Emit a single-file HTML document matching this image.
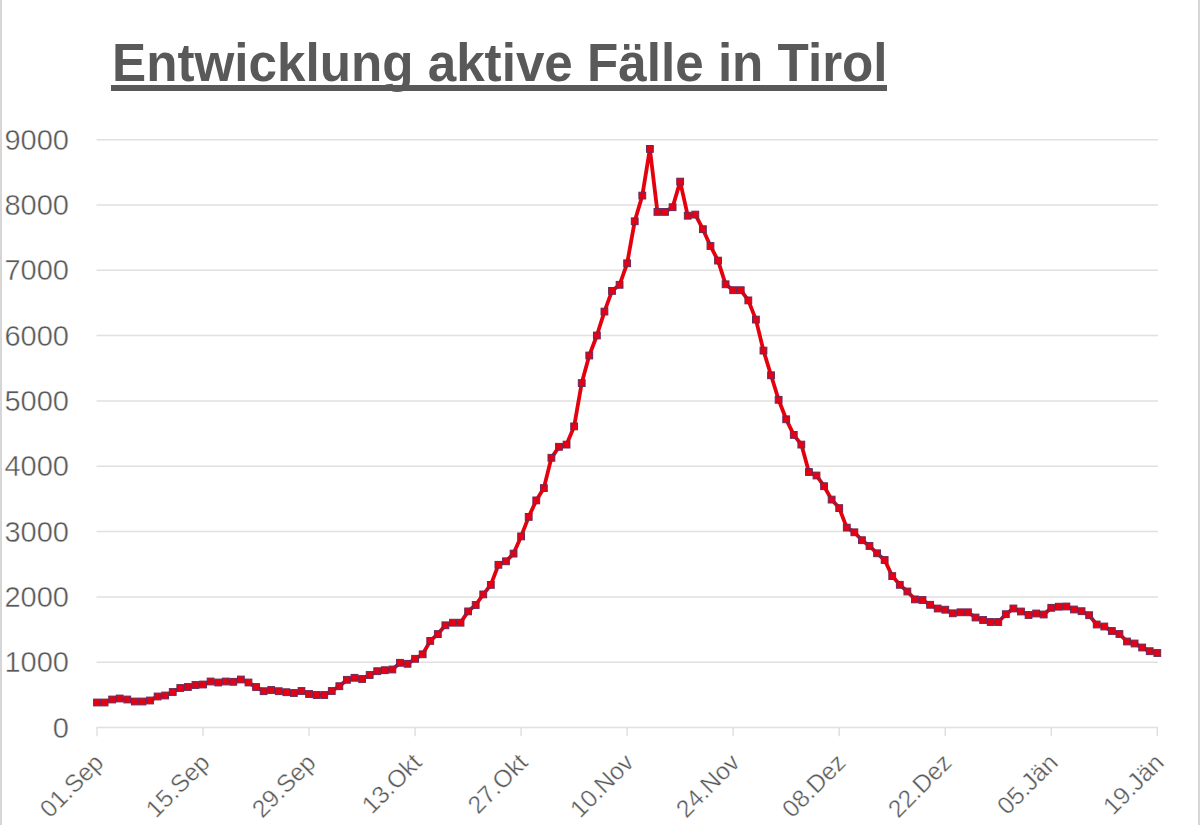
<!DOCTYPE html>
<html><head><meta charset="utf-8"><style>
html,body{margin:0;padding:0;background:#fff;}
body{width:1200px;height:825px;position:relative;overflow:hidden;font-family:"Liberation Sans",sans-serif;}
svg{position:absolute;left:0;top:0;}
.yl{font-family:"Liberation Sans",sans-serif;font-size:29px;fill:#595959;stroke:#fff;stroke-width:0.4px;}
.xl{font-family:"Liberation Sans",sans-serif;font-size:24.5px;fill:#595959;stroke:#fff;stroke-width:0.35px;}
.title{position:absolute;left:112px;top:35px;font-weight:bold;font-size:51.2px;color:#595959;white-space:nowrap;line-height:1;transform-origin:0 0;transform:scaleY(1.065);}
.ul{position:absolute;left:111px;top:85.3px;width:776px;height:5.4px;background:#595959;}
.bl{position:absolute;left:0;top:0;width:2px;height:825px;background:#d6d6d6;}
.br{position:absolute;left:1198px;top:0;width:2px;height:825px;background:#d6d6d6;}
</style></head><body>
<div class="bl"></div><div class="br"></div>
<div class="ul"></div><div class="title">Entwicklung aktive F&#228;lle in Tirol</div>
<svg width="1200" height="825" viewBox="0 0 1200 825">
<line x1="96.5" y1="662.27" x2="1158" y2="662.27" stroke="#e0e0e0" stroke-width="1.5"/>
<line x1="96.5" y1="596.94" x2="1158" y2="596.94" stroke="#e0e0e0" stroke-width="1.5"/>
<line x1="96.5" y1="531.61" x2="1158" y2="531.61" stroke="#e0e0e0" stroke-width="1.5"/>
<line x1="96.5" y1="466.28" x2="1158" y2="466.28" stroke="#e0e0e0" stroke-width="1.5"/>
<line x1="96.5" y1="400.95" x2="1158" y2="400.95" stroke="#e0e0e0" stroke-width="1.5"/>
<line x1="96.5" y1="335.62" x2="1158" y2="335.62" stroke="#e0e0e0" stroke-width="1.5"/>
<line x1="96.5" y1="270.29" x2="1158" y2="270.29" stroke="#e0e0e0" stroke-width="1.5"/>
<line x1="96.5" y1="204.96" x2="1158" y2="204.96" stroke="#e0e0e0" stroke-width="1.5"/>
<line x1="96.5" y1="139.63" x2="1158" y2="139.63" stroke="#e0e0e0" stroke-width="1.5"/>
<line x1="96.5" y1="727.6" x2="1158" y2="727.6" stroke="#e0e0e0" stroke-width="1.5"/>
<line x1="97.00" y1="727.6" x2="97.00" y2="736.2" stroke="#e0e0e0" stroke-width="1.5"/>
<line x1="203.03" y1="727.6" x2="203.03" y2="736.2" stroke="#e0e0e0" stroke-width="1.5"/>
<line x1="309.06" y1="727.6" x2="309.06" y2="736.2" stroke="#e0e0e0" stroke-width="1.5"/>
<line x1="415.09" y1="727.6" x2="415.09" y2="736.2" stroke="#e0e0e0" stroke-width="1.5"/>
<line x1="521.12" y1="727.6" x2="521.12" y2="736.2" stroke="#e0e0e0" stroke-width="1.5"/>
<line x1="627.15" y1="727.6" x2="627.15" y2="736.2" stroke="#e0e0e0" stroke-width="1.5"/>
<line x1="733.18" y1="727.6" x2="733.18" y2="736.2" stroke="#e0e0e0" stroke-width="1.5"/>
<line x1="839.21" y1="727.6" x2="839.21" y2="736.2" stroke="#e0e0e0" stroke-width="1.5"/>
<line x1="945.24" y1="727.6" x2="945.24" y2="736.2" stroke="#e0e0e0" stroke-width="1.5"/>
<line x1="1051.27" y1="727.6" x2="1051.27" y2="736.2" stroke="#e0e0e0" stroke-width="1.5"/>
<line x1="1157.30" y1="727.6" x2="1157.30" y2="736.2" stroke="#e0e0e0" stroke-width="1.5"/>
<text x="69" y="737.50" text-anchor="end" class="yl">0</text>
<text x="69" y="672.17" text-anchor="end" class="yl">1000</text>
<text x="69" y="606.84" text-anchor="end" class="yl">2000</text>
<text x="69" y="541.51" text-anchor="end" class="yl">3000</text>
<text x="69" y="476.18" text-anchor="end" class="yl">4000</text>
<text x="69" y="410.85" text-anchor="end" class="yl">5000</text>
<text x="69" y="345.52" text-anchor="end" class="yl">6000</text>
<text x="69" y="280.19" text-anchor="end" class="yl">7000</text>
<text x="69" y="214.86" text-anchor="end" class="yl">8000</text>
<text x="69" y="149.53" text-anchor="end" class="yl">9000</text>
<text transform="translate(105.00,764) rotate(-45)" text-anchor="end" class="xl">01.Sep</text>
<text transform="translate(211.03,764) rotate(-45)" text-anchor="end" class="xl">15.Sep</text>
<text transform="translate(317.06,764) rotate(-45)" text-anchor="end" class="xl">29.Sep</text>
<text transform="translate(423.09,764) rotate(-45)" text-anchor="end" class="xl">13.Okt</text>
<text transform="translate(529.12,764) rotate(-45)" text-anchor="end" class="xl">27.Okt</text>
<text transform="translate(635.15,764) rotate(-45)" text-anchor="end" class="xl">10.Nov</text>
<text transform="translate(741.18,764) rotate(-45)" text-anchor="end" class="xl">24.Nov</text>
<text transform="translate(847.21,764) rotate(-45)" text-anchor="end" class="xl">08.Dez</text>
<text transform="translate(953.24,764) rotate(-45)" text-anchor="end" class="xl">22.Dez</text>
<text transform="translate(1059.27,764) rotate(-45)" text-anchor="end" class="xl">05.J&#228;n</text>
<text transform="translate(1165.30,764) rotate(-45)" text-anchor="end" class="xl">19.J&#228;n</text>
<path d="M97.00,702.50 L104.57,702.50 L112.15,699.50 L119.72,698.50 L127.29,699.50 L134.87,701.50 L142.44,701.50 L150.01,700.50 L157.59,696.50 L165.16,695.50 L172.74,692.00 L180.31,688.00 L187.88,687.00 L195.46,685.00 L203.03,684.50 L210.60,681.50 L218.18,682.50 L225.75,681.50 L233.32,681.80 L240.90,679.50 L248.47,682.50 L256.04,687.00 L263.62,691.20 L271.19,690.00 L278.77,691.20 L286.34,692.20 L293.91,693.00 L301.49,691.00 L309.06,694.00 L316.63,695.00 L324.21,695.00 L331.78,691.00 L339.35,686.20 L346.93,679.80 L354.50,677.80 L362.07,679.00 L369.65,675.00 L377.22,671.20 L384.80,670.20 L392.37,669.50 L399.94,662.80 L407.52,663.80 L415.09,658.80 L422.66,654.30 L430.24,640.90 L437.81,634.10 L445.38,625.30 L452.96,622.70 L460.53,622.70 L468.11,611.40 L475.68,605.00 L483.25,594.40 L490.83,584.90 L498.40,564.80 L505.97,561.30 L513.55,553.60 L521.12,536.40 L528.69,516.90 L536.27,500.40 L543.84,488.10 L551.41,457.80 L558.99,446.80 L566.56,444.60 L574.13,426.40 L581.71,383.10 L589.28,355.50 L596.86,335.50 L604.43,311.60 L612.00,290.90 L619.58,284.80 L627.15,263.30 L634.72,221.30 L642.30,195.60 L649.87,148.90 L657.44,211.90 L665.02,211.90 L672.59,207.20 L680.16,181.60 L687.74,215.70 L695.31,214.60 L702.89,229.20 L710.46,246.00 L718.03,260.60 L725.61,284.30 L733.18,290.20 L740.75,290.20 L748.33,300.40 L755.90,319.60 L763.47,350.60 L771.05,375.30 L778.62,399.80 L786.19,419.30 L793.77,434.90 L801.34,444.60 L808.92,472.00 L816.49,475.50 L824.06,486.20 L831.64,499.60 L839.21,508.10 L846.78,527.60 L854.36,532.30 L861.93,540.20 L869.50,546.00 L877.08,553.30 L884.65,560.00 L892.23,576.10 L899.80,584.80 L907.37,591.50 L914.95,599.40 L922.52,600.00 L930.09,604.80 L937.67,608.50 L945.24,609.70 L952.81,613.30 L960.39,612.30 L967.96,612.30 L975.53,617.50 L983.11,620.00 L990.68,622.00 L998.25,622.00 L1005.83,614.20 L1013.40,608.50 L1020.98,611.50 L1028.55,615.00 L1036.12,613.50 L1043.70,614.50 L1051.27,607.80 L1058.84,606.70 L1066.42,606.50 L1073.99,609.50 L1081.56,611.20 L1089.14,615.20 L1096.71,624.50 L1104.28,626.50 L1111.86,631.00 L1119.43,634.00 L1127.01,641.50 L1134.58,643.50 L1142.15,647.50 L1149.73,651.20 L1157.30,653.00" fill="none" stroke="#e4000c" stroke-width="3.8" stroke-linejoin="round"/>
<rect x="93.60" y="699.10" width="6.8" height="6.8" fill="#e60012" stroke="#6a2a5a" stroke-width="1"/>
<rect x="101.17" y="699.10" width="6.8" height="6.8" fill="#e60012" stroke="#6a2a5a" stroke-width="1"/>
<rect x="108.75" y="696.10" width="6.8" height="6.8" fill="#e60012" stroke="#6a2a5a" stroke-width="1"/>
<rect x="116.32" y="695.10" width="6.8" height="6.8" fill="#e60012" stroke="#6a2a5a" stroke-width="1"/>
<rect x="123.89" y="696.10" width="6.8" height="6.8" fill="#e60012" stroke="#6a2a5a" stroke-width="1"/>
<rect x="131.47" y="698.10" width="6.8" height="6.8" fill="#e60012" stroke="#6a2a5a" stroke-width="1"/>
<rect x="139.04" y="698.10" width="6.8" height="6.8" fill="#e60012" stroke="#6a2a5a" stroke-width="1"/>
<rect x="146.61" y="697.10" width="6.8" height="6.8" fill="#e60012" stroke="#6a2a5a" stroke-width="1"/>
<rect x="154.19" y="693.10" width="6.8" height="6.8" fill="#e60012" stroke="#6a2a5a" stroke-width="1"/>
<rect x="161.76" y="692.10" width="6.8" height="6.8" fill="#e60012" stroke="#6a2a5a" stroke-width="1"/>
<rect x="169.34" y="688.60" width="6.8" height="6.8" fill="#e60012" stroke="#6a2a5a" stroke-width="1"/>
<rect x="176.91" y="684.60" width="6.8" height="6.8" fill="#e60012" stroke="#6a2a5a" stroke-width="1"/>
<rect x="184.48" y="683.60" width="6.8" height="6.8" fill="#e60012" stroke="#6a2a5a" stroke-width="1"/>
<rect x="192.06" y="681.60" width="6.8" height="6.8" fill="#e60012" stroke="#6a2a5a" stroke-width="1"/>
<rect x="199.63" y="681.10" width="6.8" height="6.8" fill="#e60012" stroke="#6a2a5a" stroke-width="1"/>
<rect x="207.20" y="678.10" width="6.8" height="6.8" fill="#e60012" stroke="#6a2a5a" stroke-width="1"/>
<rect x="214.78" y="679.10" width="6.8" height="6.8" fill="#e60012" stroke="#6a2a5a" stroke-width="1"/>
<rect x="222.35" y="678.10" width="6.8" height="6.8" fill="#e60012" stroke="#6a2a5a" stroke-width="1"/>
<rect x="229.92" y="678.40" width="6.8" height="6.8" fill="#e60012" stroke="#6a2a5a" stroke-width="1"/>
<rect x="237.50" y="676.10" width="6.8" height="6.8" fill="#e60012" stroke="#6a2a5a" stroke-width="1"/>
<rect x="245.07" y="679.10" width="6.8" height="6.8" fill="#e60012" stroke="#6a2a5a" stroke-width="1"/>
<rect x="252.64" y="683.60" width="6.8" height="6.8" fill="#e60012" stroke="#6a2a5a" stroke-width="1"/>
<rect x="260.22" y="687.80" width="6.8" height="6.8" fill="#e60012" stroke="#6a2a5a" stroke-width="1"/>
<rect x="267.79" y="686.60" width="6.8" height="6.8" fill="#e60012" stroke="#6a2a5a" stroke-width="1"/>
<rect x="275.37" y="687.80" width="6.8" height="6.8" fill="#e60012" stroke="#6a2a5a" stroke-width="1"/>
<rect x="282.94" y="688.80" width="6.8" height="6.8" fill="#e60012" stroke="#6a2a5a" stroke-width="1"/>
<rect x="290.51" y="689.60" width="6.8" height="6.8" fill="#e60012" stroke="#6a2a5a" stroke-width="1"/>
<rect x="298.09" y="687.60" width="6.8" height="6.8" fill="#e60012" stroke="#6a2a5a" stroke-width="1"/>
<rect x="305.66" y="690.60" width="6.8" height="6.8" fill="#e60012" stroke="#6a2a5a" stroke-width="1"/>
<rect x="313.23" y="691.60" width="6.8" height="6.8" fill="#e60012" stroke="#6a2a5a" stroke-width="1"/>
<rect x="320.81" y="691.60" width="6.8" height="6.8" fill="#e60012" stroke="#6a2a5a" stroke-width="1"/>
<rect x="328.38" y="687.60" width="6.8" height="6.8" fill="#e60012" stroke="#6a2a5a" stroke-width="1"/>
<rect x="335.95" y="682.80" width="6.8" height="6.8" fill="#e60012" stroke="#6a2a5a" stroke-width="1"/>
<rect x="343.53" y="676.40" width="6.8" height="6.8" fill="#e60012" stroke="#6a2a5a" stroke-width="1"/>
<rect x="351.10" y="674.40" width="6.8" height="6.8" fill="#e60012" stroke="#6a2a5a" stroke-width="1"/>
<rect x="358.68" y="675.60" width="6.8" height="6.8" fill="#e60012" stroke="#6a2a5a" stroke-width="1"/>
<rect x="366.25" y="671.60" width="6.8" height="6.8" fill="#e60012" stroke="#6a2a5a" stroke-width="1"/>
<rect x="373.82" y="667.80" width="6.8" height="6.8" fill="#e60012" stroke="#6a2a5a" stroke-width="1"/>
<rect x="381.40" y="666.80" width="6.8" height="6.8" fill="#e60012" stroke="#6a2a5a" stroke-width="1"/>
<rect x="388.97" y="666.10" width="6.8" height="6.8" fill="#e60012" stroke="#6a2a5a" stroke-width="1"/>
<rect x="396.54" y="659.40" width="6.8" height="6.8" fill="#e60012" stroke="#6a2a5a" stroke-width="1"/>
<rect x="404.12" y="660.40" width="6.8" height="6.8" fill="#e60012" stroke="#6a2a5a" stroke-width="1"/>
<rect x="411.69" y="655.40" width="6.8" height="6.8" fill="#e60012" stroke="#6a2a5a" stroke-width="1"/>
<rect x="419.26" y="650.90" width="6.8" height="6.8" fill="#e60012" stroke="#6a2a5a" stroke-width="1"/>
<rect x="426.84" y="637.50" width="6.8" height="6.8" fill="#e60012" stroke="#6a2a5a" stroke-width="1"/>
<rect x="434.41" y="630.70" width="6.8" height="6.8" fill="#e60012" stroke="#6a2a5a" stroke-width="1"/>
<rect x="441.98" y="621.90" width="6.8" height="6.8" fill="#e60012" stroke="#6a2a5a" stroke-width="1"/>
<rect x="449.56" y="619.30" width="6.8" height="6.8" fill="#e60012" stroke="#6a2a5a" stroke-width="1"/>
<rect x="457.13" y="619.30" width="6.8" height="6.8" fill="#e60012" stroke="#6a2a5a" stroke-width="1"/>
<rect x="464.71" y="608.00" width="6.8" height="6.8" fill="#e60012" stroke="#6a2a5a" stroke-width="1"/>
<rect x="472.28" y="601.60" width="6.8" height="6.8" fill="#e60012" stroke="#6a2a5a" stroke-width="1"/>
<rect x="479.85" y="591.00" width="6.8" height="6.8" fill="#e60012" stroke="#6a2a5a" stroke-width="1"/>
<rect x="487.43" y="581.50" width="6.8" height="6.8" fill="#e60012" stroke="#6a2a5a" stroke-width="1"/>
<rect x="495.00" y="561.40" width="6.8" height="6.8" fill="#e60012" stroke="#6a2a5a" stroke-width="1"/>
<rect x="502.57" y="557.90" width="6.8" height="6.8" fill="#e60012" stroke="#6a2a5a" stroke-width="1"/>
<rect x="510.15" y="550.20" width="6.8" height="6.8" fill="#e60012" stroke="#6a2a5a" stroke-width="1"/>
<rect x="517.72" y="533.00" width="6.8" height="6.8" fill="#e60012" stroke="#6a2a5a" stroke-width="1"/>
<rect x="525.29" y="513.50" width="6.8" height="6.8" fill="#e60012" stroke="#6a2a5a" stroke-width="1"/>
<rect x="532.87" y="497.00" width="6.8" height="6.8" fill="#e60012" stroke="#6a2a5a" stroke-width="1"/>
<rect x="540.44" y="484.70" width="6.8" height="6.8" fill="#e60012" stroke="#6a2a5a" stroke-width="1"/>
<rect x="548.01" y="454.40" width="6.8" height="6.8" fill="#e60012" stroke="#6a2a5a" stroke-width="1"/>
<rect x="555.59" y="443.40" width="6.8" height="6.8" fill="#e60012" stroke="#6a2a5a" stroke-width="1"/>
<rect x="563.16" y="441.20" width="6.8" height="6.8" fill="#e60012" stroke="#6a2a5a" stroke-width="1"/>
<rect x="570.74" y="423.00" width="6.8" height="6.8" fill="#e60012" stroke="#6a2a5a" stroke-width="1"/>
<rect x="578.31" y="379.70" width="6.8" height="6.8" fill="#e60012" stroke="#6a2a5a" stroke-width="1"/>
<rect x="585.88" y="352.10" width="6.8" height="6.8" fill="#e60012" stroke="#6a2a5a" stroke-width="1"/>
<rect x="593.46" y="332.10" width="6.8" height="6.8" fill="#e60012" stroke="#6a2a5a" stroke-width="1"/>
<rect x="601.03" y="308.20" width="6.8" height="6.8" fill="#e60012" stroke="#6a2a5a" stroke-width="1"/>
<rect x="608.60" y="287.50" width="6.8" height="6.8" fill="#e60012" stroke="#6a2a5a" stroke-width="1"/>
<rect x="616.18" y="281.40" width="6.8" height="6.8" fill="#e60012" stroke="#6a2a5a" stroke-width="1"/>
<rect x="623.75" y="259.90" width="6.8" height="6.8" fill="#e60012" stroke="#6a2a5a" stroke-width="1"/>
<rect x="631.32" y="217.90" width="6.8" height="6.8" fill="#e60012" stroke="#6a2a5a" stroke-width="1"/>
<rect x="638.90" y="192.20" width="6.8" height="6.8" fill="#e60012" stroke="#6a2a5a" stroke-width="1"/>
<rect x="646.47" y="145.50" width="6.8" height="6.8" fill="#e60012" stroke="#6a2a5a" stroke-width="1"/>
<rect x="654.04" y="208.50" width="6.8" height="6.8" fill="#e60012" stroke="#6a2a5a" stroke-width="1"/>
<rect x="661.62" y="208.50" width="6.8" height="6.8" fill="#e60012" stroke="#6a2a5a" stroke-width="1"/>
<rect x="669.19" y="203.80" width="6.8" height="6.8" fill="#e60012" stroke="#6a2a5a" stroke-width="1"/>
<rect x="676.76" y="178.20" width="6.8" height="6.8" fill="#e60012" stroke="#6a2a5a" stroke-width="1"/>
<rect x="684.34" y="212.30" width="6.8" height="6.8" fill="#e60012" stroke="#6a2a5a" stroke-width="1"/>
<rect x="691.91" y="211.20" width="6.8" height="6.8" fill="#e60012" stroke="#6a2a5a" stroke-width="1"/>
<rect x="699.49" y="225.80" width="6.8" height="6.8" fill="#e60012" stroke="#6a2a5a" stroke-width="1"/>
<rect x="707.06" y="242.60" width="6.8" height="6.8" fill="#e60012" stroke="#6a2a5a" stroke-width="1"/>
<rect x="714.63" y="257.20" width="6.8" height="6.8" fill="#e60012" stroke="#6a2a5a" stroke-width="1"/>
<rect x="722.21" y="280.90" width="6.8" height="6.8" fill="#e60012" stroke="#6a2a5a" stroke-width="1"/>
<rect x="729.78" y="286.80" width="6.8" height="6.8" fill="#e60012" stroke="#6a2a5a" stroke-width="1"/>
<rect x="737.35" y="286.80" width="6.8" height="6.8" fill="#e60012" stroke="#6a2a5a" stroke-width="1"/>
<rect x="744.93" y="297.00" width="6.8" height="6.8" fill="#e60012" stroke="#6a2a5a" stroke-width="1"/>
<rect x="752.50" y="316.20" width="6.8" height="6.8" fill="#e60012" stroke="#6a2a5a" stroke-width="1"/>
<rect x="760.07" y="347.20" width="6.8" height="6.8" fill="#e60012" stroke="#6a2a5a" stroke-width="1"/>
<rect x="767.65" y="371.90" width="6.8" height="6.8" fill="#e60012" stroke="#6a2a5a" stroke-width="1"/>
<rect x="775.22" y="396.40" width="6.8" height="6.8" fill="#e60012" stroke="#6a2a5a" stroke-width="1"/>
<rect x="782.79" y="415.90" width="6.8" height="6.8" fill="#e60012" stroke="#6a2a5a" stroke-width="1"/>
<rect x="790.37" y="431.50" width="6.8" height="6.8" fill="#e60012" stroke="#6a2a5a" stroke-width="1"/>
<rect x="797.94" y="441.20" width="6.8" height="6.8" fill="#e60012" stroke="#6a2a5a" stroke-width="1"/>
<rect x="805.52" y="468.60" width="6.8" height="6.8" fill="#e60012" stroke="#6a2a5a" stroke-width="1"/>
<rect x="813.09" y="472.10" width="6.8" height="6.8" fill="#e60012" stroke="#6a2a5a" stroke-width="1"/>
<rect x="820.66" y="482.80" width="6.8" height="6.8" fill="#e60012" stroke="#6a2a5a" stroke-width="1"/>
<rect x="828.24" y="496.20" width="6.8" height="6.8" fill="#e60012" stroke="#6a2a5a" stroke-width="1"/>
<rect x="835.81" y="504.70" width="6.8" height="6.8" fill="#e60012" stroke="#6a2a5a" stroke-width="1"/>
<rect x="843.38" y="524.20" width="6.8" height="6.8" fill="#e60012" stroke="#6a2a5a" stroke-width="1"/>
<rect x="850.96" y="528.90" width="6.8" height="6.8" fill="#e60012" stroke="#6a2a5a" stroke-width="1"/>
<rect x="858.53" y="536.80" width="6.8" height="6.8" fill="#e60012" stroke="#6a2a5a" stroke-width="1"/>
<rect x="866.10" y="542.60" width="6.8" height="6.8" fill="#e60012" stroke="#6a2a5a" stroke-width="1"/>
<rect x="873.68" y="549.90" width="6.8" height="6.8" fill="#e60012" stroke="#6a2a5a" stroke-width="1"/>
<rect x="881.25" y="556.60" width="6.8" height="6.8" fill="#e60012" stroke="#6a2a5a" stroke-width="1"/>
<rect x="888.83" y="572.70" width="6.8" height="6.8" fill="#e60012" stroke="#6a2a5a" stroke-width="1"/>
<rect x="896.40" y="581.40" width="6.8" height="6.8" fill="#e60012" stroke="#6a2a5a" stroke-width="1"/>
<rect x="903.97" y="588.10" width="6.8" height="6.8" fill="#e60012" stroke="#6a2a5a" stroke-width="1"/>
<rect x="911.55" y="596.00" width="6.8" height="6.8" fill="#e60012" stroke="#6a2a5a" stroke-width="1"/>
<rect x="919.12" y="596.60" width="6.8" height="6.8" fill="#e60012" stroke="#6a2a5a" stroke-width="1"/>
<rect x="926.69" y="601.40" width="6.8" height="6.8" fill="#e60012" stroke="#6a2a5a" stroke-width="1"/>
<rect x="934.27" y="605.10" width="6.8" height="6.8" fill="#e60012" stroke="#6a2a5a" stroke-width="1"/>
<rect x="941.84" y="606.30" width="6.8" height="6.8" fill="#e60012" stroke="#6a2a5a" stroke-width="1"/>
<rect x="949.41" y="609.90" width="6.8" height="6.8" fill="#e60012" stroke="#6a2a5a" stroke-width="1"/>
<rect x="956.99" y="608.90" width="6.8" height="6.8" fill="#e60012" stroke="#6a2a5a" stroke-width="1"/>
<rect x="964.56" y="608.90" width="6.8" height="6.8" fill="#e60012" stroke="#6a2a5a" stroke-width="1"/>
<rect x="972.13" y="614.10" width="6.8" height="6.8" fill="#e60012" stroke="#6a2a5a" stroke-width="1"/>
<rect x="979.71" y="616.60" width="6.8" height="6.8" fill="#e60012" stroke="#6a2a5a" stroke-width="1"/>
<rect x="987.28" y="618.60" width="6.8" height="6.8" fill="#e60012" stroke="#6a2a5a" stroke-width="1"/>
<rect x="994.86" y="618.60" width="6.8" height="6.8" fill="#e60012" stroke="#6a2a5a" stroke-width="1"/>
<rect x="1002.43" y="610.80" width="6.8" height="6.8" fill="#e60012" stroke="#6a2a5a" stroke-width="1"/>
<rect x="1010.00" y="605.10" width="6.8" height="6.8" fill="#e60012" stroke="#6a2a5a" stroke-width="1"/>
<rect x="1017.58" y="608.10" width="6.8" height="6.8" fill="#e60012" stroke="#6a2a5a" stroke-width="1"/>
<rect x="1025.15" y="611.60" width="6.8" height="6.8" fill="#e60012" stroke="#6a2a5a" stroke-width="1"/>
<rect x="1032.72" y="610.10" width="6.8" height="6.8" fill="#e60012" stroke="#6a2a5a" stroke-width="1"/>
<rect x="1040.30" y="611.10" width="6.8" height="6.8" fill="#e60012" stroke="#6a2a5a" stroke-width="1"/>
<rect x="1047.87" y="604.40" width="6.8" height="6.8" fill="#e60012" stroke="#6a2a5a" stroke-width="1"/>
<rect x="1055.44" y="603.30" width="6.8" height="6.8" fill="#e60012" stroke="#6a2a5a" stroke-width="1"/>
<rect x="1063.02" y="603.10" width="6.8" height="6.8" fill="#e60012" stroke="#6a2a5a" stroke-width="1"/>
<rect x="1070.59" y="606.10" width="6.8" height="6.8" fill="#e60012" stroke="#6a2a5a" stroke-width="1"/>
<rect x="1078.16" y="607.80" width="6.8" height="6.8" fill="#e60012" stroke="#6a2a5a" stroke-width="1"/>
<rect x="1085.74" y="611.80" width="6.8" height="6.8" fill="#e60012" stroke="#6a2a5a" stroke-width="1"/>
<rect x="1093.31" y="621.10" width="6.8" height="6.8" fill="#e60012" stroke="#6a2a5a" stroke-width="1"/>
<rect x="1100.88" y="623.10" width="6.8" height="6.8" fill="#e60012" stroke="#6a2a5a" stroke-width="1"/>
<rect x="1108.46" y="627.60" width="6.8" height="6.8" fill="#e60012" stroke="#6a2a5a" stroke-width="1"/>
<rect x="1116.03" y="630.60" width="6.8" height="6.8" fill="#e60012" stroke="#6a2a5a" stroke-width="1"/>
<rect x="1123.61" y="638.10" width="6.8" height="6.8" fill="#e60012" stroke="#6a2a5a" stroke-width="1"/>
<rect x="1131.18" y="640.10" width="6.8" height="6.8" fill="#e60012" stroke="#6a2a5a" stroke-width="1"/>
<rect x="1138.75" y="644.10" width="6.8" height="6.8" fill="#e60012" stroke="#6a2a5a" stroke-width="1"/>
<rect x="1146.33" y="647.80" width="6.8" height="6.8" fill="#e60012" stroke="#6a2a5a" stroke-width="1"/>
<rect x="1153.90" y="649.60" width="6.8" height="6.8" fill="#e60012" stroke="#6a2a5a" stroke-width="1"/>
</svg>
</body></html>
